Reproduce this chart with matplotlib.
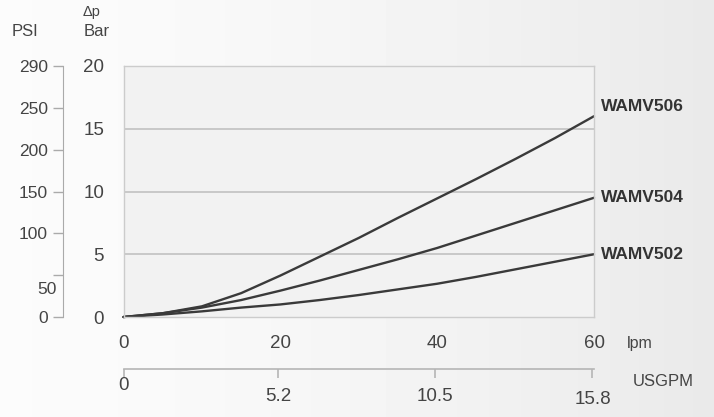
import matplotlib
matplotlib.use('Agg')
import matplotlib.pyplot as plt
import numpy as np

plt.rcParams['font.family'] = ['Liberation Sans', 'DejaVu Sans']

# flow in lpm, pressure drop in bar
lpm = [0, 5, 10, 15, 20, 25, 30, 35, 40, 45, 50, 55, 60]
wamv506 = [0, 0.3, 0.85, 1.9, 3.3, 4.8, 6.3, 7.9, 9.45, 11.0, 12.6, 14.25, 16.0]
wamv504 = [0, 0.3, 0.75, 1.35, 2.1, 2.9, 3.75, 4.6, 5.5, 6.5, 7.5, 8.5, 9.5]
wamv502 = [0, 0.2, 0.45, 0.75, 1.0, 1.35, 1.75, 2.2, 2.65, 3.2, 3.8, 4.4, 5.0]
series = {'WAMV506': wamv506, 'WAMV504': wamv504, 'WAMV502': wamv502}

bar_ticks = [0, 5, 10, 15, 20]
lpm_ticks = [0, 20, 40, 60]
psi_labels = ['0', '50', '100', '150', '200', '250', '290']
usgpm_ticks = [0, 5.2, 10.5, 15.8]
LPM_PER_GAL = 3.785

txt = '#444444'
W, H = 714, 417
fig = plt.figure(figsize=(W / 100, H / 100), dpi=100)

# faint paper-like background, whiter on the left
bg = fig.add_axes([0, 0, 1, 1])
grad = np.linspace(0, 1, 200) ** 1.5
bg.imshow(np.tile(0.985 - 0.07 * grad, (10, 1)), cmap='gray', vmin=0, vmax=1,
          aspect='auto', extent=[0, 1, 0, 1])
bg.set_axis_off()

l, r, b, t = 123.5 / W, 594 / W, 1 - 317 / H, 1 - 66 / H
ax = fig.add_axes([l, b, r - l, t - b])
ax.set_facecolor('#f2f2f2')
for name, vals in series.items():
    ax.plot(lpm, vals, color='#3a3a3a', lw=1.7, solid_capstyle='round',
            solid_joinstyle='round', clip_on=False)
ax.set_xlim(0, 60)
ax.set_ylim(0, 20)
ax.set_xticks(lpm_ticks)
ax.set_yticks(bar_ticks)
ax.tick_params(length=0, labelsize=13.5, colors=txt, pad=13)
ax.tick_params(axis='y', pad=14)
for y in bar_ticks[1:-1]:
    ax.axhline(y, color='#bdbdbd', lw=1.1, zorder=0.5)
for s in ax.spines.values():
    s.set_color('#cccccc')
    s.set_linewidth(1.0)

# curve labels
offsets = {'WAMV506': 10, 'WAMV504': 0, 'WAMV502': 0}
for name, vals in series.items():
    ax.annotate(name, xy=(lpm[-1], vals[-1]), xytext=(5, offsets[name] / 1.389),
                textcoords='offset points', ha='left', va='center',
                fontsize=12.5, fontweight='bold', color='#333333', annotation_clip=False)

ax.text(1.07, -0.105, 'lpm', transform=ax.transAxes, fontsize=11.5, color=txt,
        ha='left', va='center')

# PSI axis (evenly spaced marks)
psi = ax.twinx()
psi.set_ylim(0, 20)
for s in ['top', 'right', 'bottom']:
    psi.spines[s].set_visible(False)
psi.spines['left'].set_visible(True)
psi.spines['left'].set_position(('outward', 43.5))
psi.spines['left'].set_color('#aaaaaa')
psi_pos = np.linspace(0, 20.2, len(psi_labels))
psi.spines['left'].set_bounds(0, psi_pos[-1])
psi.yaxis.set_ticks_position('left')
psi.yaxis.set_label_position('left')
psi.set_yticks(psi_pos)
psi.set_yticklabels([p if p != '50' else '' for p in psi_labels])
psi.tick_params(axis='y', length=7, width=1, color='#aaaaaa', labelsize=12.5,
                labelcolor=txt, pad=4)
i50 = psi_labels.index('50')
psi.annotate('50', xy=(0, psi_pos[i50]), xycoords=('axes fraction', 'data'),
             xytext=(-48, -10), textcoords='offset points', ha='right', va='center',
             fontsize=12.5, color=txt, annotation_clip=False)

fig.text(92 / W, 1 - 12 / H, 'Δp', fontsize=10.5, color=txt, ha='center', va='center')
fig.text(25 / W, 1 - 32 / H, 'PSI', fontsize=12, color=txt, ha='center', va='center')
fig.text(97 / W, 1 - 32 / H, 'Bar', fontsize=12, color=txt, ha='center', va='center')

# USGPM axis
ay = 1 - 369 / H
ug = fig.add_axes([l, ay, r - l, 0.0001])
ug.set_facecolor('none')
ug.set_xlim(0, 60 / LPM_PER_GAL)
ug.set_yticks([])
for s in ['top', 'left', 'right']:
    ug.spines[s].set_visible(False)
ug.spines['bottom'].set_color('#b5b5b5')
ug.spines['bottom'].set_linewidth(1.2)
ug.set_xticks(usgpm_ticks)
ug.set_xticklabels([''] * len(usgpm_ticks))
ug.tick_params(axis='x', length=6.5, width=1.2, color='#b5b5b5')
drops = [12, 20, 20, 22]
for v, d in zip(usgpm_ticks, drops):
    ug.annotate(f'{v:g}', xy=(v, 0), xycoords=('data', 'axes fraction'),
                xytext=(0, -d), textcoords='offset points', ha='center', va='center',
                fontsize=13.5, color=txt, annotation_clip=False)
fig.text(633 / W, 1 - 382 / H, 'USGPM', fontsize=12, color=txt, ha='left', va='center')

fig.savefig('out.png', dpi=100)
